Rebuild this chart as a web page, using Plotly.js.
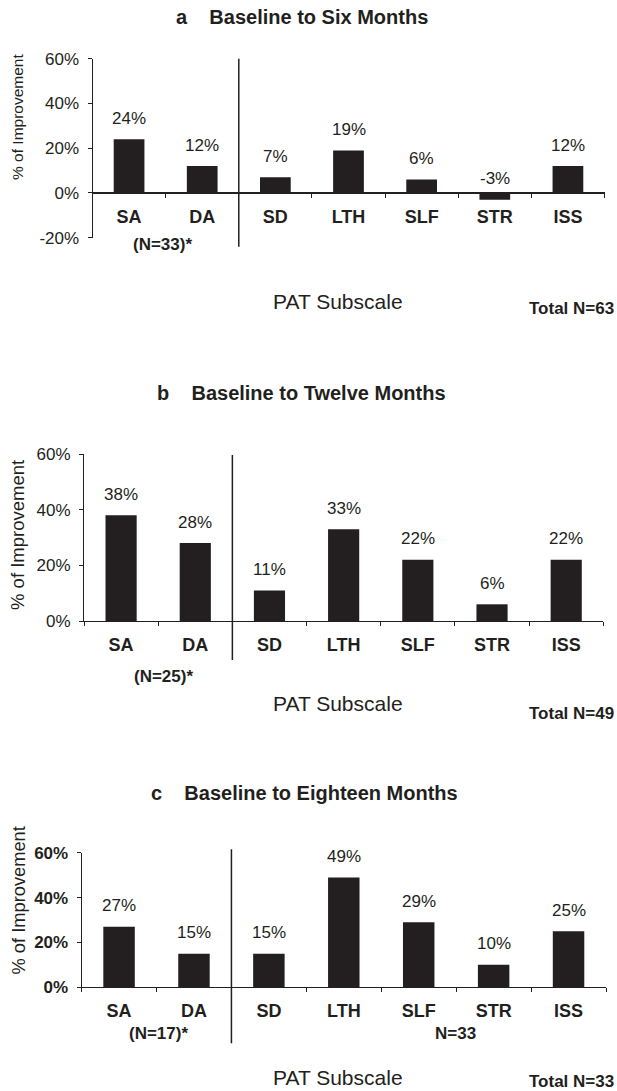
<!DOCTYPE html>
<html>
<head>
<meta charset="utf-8">
<script src="https://cdn.plot.ly/plotly-3.0.1.min.js"></script>
<style>html,body{margin:0;padding:0;background:#fff;}#chart{width:617px;height:1091px;}</style>
</head>
<body>
<div id="chart"></div>
<script>
// ---- data ----
const categories = ['SA', 'DA', 'SD', 'LTH', 'SLF', 'STR', 'ISS'];
const valuesSixMonths = [24, 12, 7, 19, 6, -3, 12];
const valuesTwelveMonths = [38, 28, 11, 33, 22, 6, 22];
const valuesEighteenMonths = [27, 15, 15, 49, 29, 10, 25];
const panelTitles = ['a\u00a0\u00a0\u00a0\u00a0Baseline to Six Months', 'b\u00a0\u00a0\u00a0\u00a0Baseline to Twelve Months', 'c\u00a0\u00a0\u00a0\u00a0Baseline to Eighteen Months'];
const subgroupLabels = ['(N=33)*', '(N=25)*', '(N=17)*'];
const totalLabels = ['Total N=63', 'Total N=49', 'Total N=33'];
const extraLabelC = 'N=33';
const tickValsA = [-20, 0, 20, 40, 60];
const tickValsBC = [0, 20, 40, 60];
const yTitle = '% of Improvement';
const xTitle = 'PAT Subscale';

// ---- layout helpers ----
const W = 617, H = 1091;
const fx = p => p / W;
const fy = p => 1 - p / H;
const FONT = 'Liberation Sans, Arial, Helvetica, sans-serif';
const INK = '#231f20';
const pct = v => String(v) + '%';

const panels = [
  {vals: valuesSixMonths, range: [-20, 60], ticks: tickValsA, x0: 92.5, x1: 604.5, top: 58.7, bot: 237.7,
   title: [302, 17], yt: [18, 117, 15.5], div: [58.7, 246.7], sub: [162.5, 245], pat: 301.5, tot: 308, boldTicks: false},
  {vals: valuesTwelveMonths, range: [0, 60], ticks: tickValsBC, x0: 84, x1: 603.3, top: 454, bot: 621,
   title: [301.5, 393], yt: [17.5, 535.5, 18.5], div: [455, 660], sub: [163.5, 676.5], pat: 703, tot: 713, boldTicks: false},
  {vals: valuesEighteenMonths, range: [0, 60], ticks: tickValsBC, x0: 81.6, x1: 606, top: 852.7, bot: 987.3,
   title: [304, 792.7], yt: [17.5, 901, 18.3], div: [849.3, 1043.3], sub: [158, 1033.3], pat: 1077, tot: 1081.5, boldTicks: true}
];

const data = [];
const layout = {
  width: W, height: H,
  margin: {l: 0, r: 0, t: 0, b: 0},
  paper_bgcolor: '#ffffff', plot_bgcolor: 'rgba(0,0,0,0)',
  showlegend: false, bargap: 0.58,
  font: {family: FONT, color: INK, size: 14},
  annotations: [], shapes: []
};

panels.forEach((p, i) => {
  const n = i === 0 ? '' : String(i + 1);
  const xa = 'x' + n, ya = 'y' + n;
  data.push({
    type: 'bar', x: categories, y: p.vals, xaxis: xa, yaxis: ya,
    marker: {color: INK, line: {width: 0}}, hoverinfo: 'x+y'
  });
  const yDom = [fy(p.bot), fy(p.top)];
  const zeroPos = yDom[0] + (0 - p.range[0]) / (p.range[1] - p.range[0]) * (yDom[1] - yDom[0]);
  layout['xaxis' + n] = {
    domain: [fx(p.x0), fx(p.x1)], anchor: p.range[0] < 0 ? 'free' : ya,
    position: zeroPos,
    type: 'category', range: [-0.5, categories.length - 0.5],
    showline: true, linecolor: INK, linewidth: 1,
    ticks: 'outside', ticklen: 4, tickcolor: INK, tickwidth: 1, tickson: 'boundaries',
    ticklabelstandoff: 7,
    tickfont: {family: FONT, size: 18, color: INK, weight: 'bold'},
    showgrid: false, zeroline: false, fixedrange: true
  };
  layout['yaxis' + n] = {
    domain: yDom, anchor: xa, range: p.range,
    tickvals: p.ticks, ticktext: p.ticks.map(pct),
    showline: true, linecolor: INK, linewidth: 1,
    ticks: 'outside', ticklen: 4, tickcolor: INK, tickwidth: 1,
    ticklabelstandoff: 5,
    tickfont: {family: FONT, size: 17, color: INK, weight: p.boldTicks ? 'bold' : 'normal'},
    showgrid: false, zeroline: p.range[0] < 0, zerolinecolor: INK, zerolinewidth: 1, fixedrange: true
  };
  // value labels
  p.vals.forEach((v, k) => {
    layout.annotations.push({
      x: categories[k], y: Math.max(v, 0), xref: xa, yref: ya,
      text: pct(v), showarrow: false, yanchor: 'middle', yshift: v < 0 ? 14 : 21,
      font: {family: FONT, size: 17, color: INK}
    });
  });
  // panel title
  layout.annotations.push({
    x: fx(p.title[0]), y: fy(p.title[1]), xref: 'paper', yref: 'paper', text: panelTitles[i],
    showarrow: false, xanchor: 'center', yanchor: 'middle',
    font: {family: FONT, size: 20, color: INK, weight: 'bold'}
  });
  // y title
  layout.annotations.push({
    x: fx(p.yt[0]), y: fy(p.yt[1]), xref: 'paper', yref: 'paper', text: yTitle, textangle: -90,
    showarrow: false, xanchor: 'center', yanchor: 'middle',
    font: {family: FONT, size: p.yt[2], color: INK}
  });
  // subgroup N
  layout.annotations.push({
    x: fx(p.sub[0]), y: fy(p.sub[1]), xref: 'paper', yref: 'paper', text: subgroupLabels[i],
    showarrow: false, xanchor: 'center', yanchor: 'middle',
    font: {family: FONT, size: 17, color: INK, weight: 'bold'}
  });
  // x title
  layout.annotations.push({
    x: fx(338), y: fy(p.pat), xref: 'paper', yref: 'paper', text: xTitle,
    showarrow: false, xanchor: 'center', yanchor: 'middle',
    font: {family: FONT, size: 21, color: INK}
  });
  // total N
  layout.annotations.push({
    x: fx(616), y: fy(p.tot), xref: 'paper', yref: 'paper', text: totalLabels[i],
    showarrow: false, xanchor: 'right', yanchor: 'middle',
    font: {family: FONT, size: 17, color: INK, weight: 'bold'}
  });
  // divider line between DA and SD
  layout.shapes.push({
    type: 'line', xref: xa, yref: 'paper', x0: 1.5, x1: 1.5, y0: fy(p.div[0]), y1: fy(p.div[1]),
    line: {color: INK, width: 1.5}
  });
});
layout.annotations.push({
  x: fx(455), y: fy(1033.3), xref: 'paper', yref: 'paper', text: extraLabelC,
  showarrow: false, xanchor: 'center', yanchor: 'middle',
  font: {family: FONT, size: 17, color: INK, weight: 'bold'}
});

Plotly.newPlot('chart', data, layout, {displayModeBar: false, staticPlot: true});
</script>
</body>
</html>
